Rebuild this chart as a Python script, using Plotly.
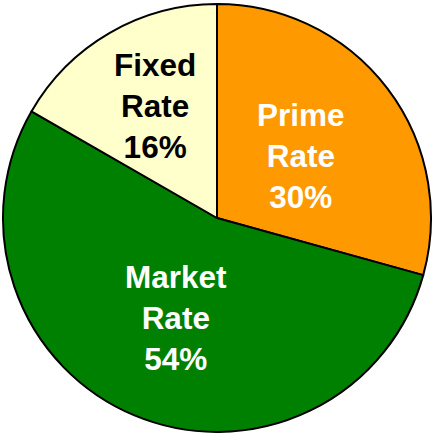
import plotly.graph_objects as go

categories = ["Prime Rate", "Market Rate", "Fixed Rate"]
values = [29.3, 54.0, 16.7]
pct_labels = ["30%", "54%", "16%"]
colors = ["#FF9900", "#008000", "#FFFFCC"]
text_colors = ["white", "white", "black"]
# label centres in paper coordinates
label_x = [0.696, 0.405, 0.355]
label_y = [0.646, 0.266, 0.762]

fig = go.Figure(go.Pie(
    labels=categories,
    values=values,
    sort=False,
    direction="clockwise",
    rotation=0,
    marker=dict(colors=colors, line=dict(color="black", width=2)),
    textinfo="none",
    hovertemplate="%{label}: %{customdata}<extra></extra>",
    customdata=pct_labels,
    showlegend=False,
))
for cat, pct, col, x, y in zip(categories, pct_labels, text_colors, label_x, label_y):
    fig.add_annotation(
        x=x, y=y, xref="paper", yref="paper",
        text="<b>" + cat.replace(" ", "<br>") + "<br>" + pct + "</b>",
        showarrow=False, xanchor="center", yanchor="middle", align="center",
        font=dict(family="Liberation Sans, Arial, sans-serif", size=31.5, color=col),
    )
fig.update_layout(
    width=434, height=433,
    margin=dict(l=3, r=3, t=4, b=1),
    paper_bgcolor="white",
    plot_bgcolor="white",
)
fig.write_html("out.html", config={"displayModeBar": False},
               post_script="document.body.style.margin='0';document.body.style.overflow='hidden';")
